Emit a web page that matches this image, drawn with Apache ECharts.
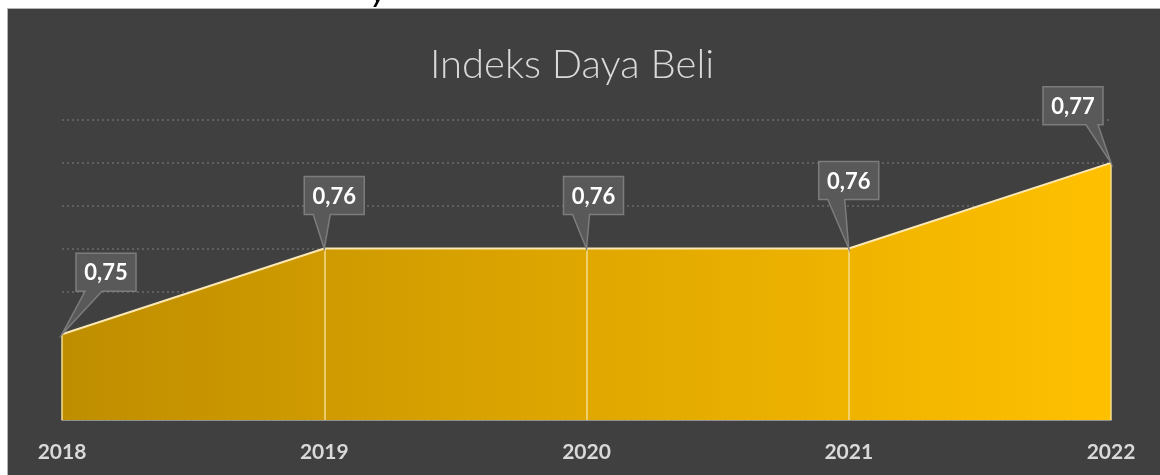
<!DOCTYPE html>
<html lang="id">
<head>
    <meta charset="UTF-8">
    <title>Indeks Daya Beli</title>
    <style>
        html, body { margin: 0; padding: 0; background: #ffffff; }
        #render-target { width: 1160px; height: 475px; }
    </style>
    <script src="https://cdn.jsdelivr.net/npm/echarts@6/dist/echarts.min.js"></script>
</head>
<body>
    <div id="render-target"></div>

    <script>
        const years = ["2018", "2019", "2020", "2021", "2022"]
        const indexValues = [0.75, 0.76, 0.76, 0.76, 0.77]

        // callout box centre relative to its point (px)
        const calloutOffsets = [[44, -62], [10, -53], [7, -53], [0, -68], [-38, -57]]

        const yMin = 0.74
        const yMax = 0.775
        const yStep = 0.005

        const fmt = v => v.toFixed(2).replace(".", ",")

        const targetEl = document.querySelector("#render-target")
        const chart = echarts.init(targetEl, null, { renderer: "canvas" })

        function renderCallout(params, api) {
            const idx = api.value(0)
            const p = api.coord([idx, api.value(1)])
            const off = calloutOffsets[params.dataIndex]
            const w = 60, h = 38
            const cx = p[0] + off[0], cy = p[1] + off[1]
            const l = cx - w / 2, r = cx + w / 2, t = cy - h / 2, b = cy + h / 2
            // wedge leaves the bottom edge on the side facing the point
            const base = p[0] > cx + 5 ? [l + 43, l + 55] : [l + 9, l + 26]
            return {
                type: "group",
                children: [{
                    type: "polygon",
                    shape: { points: [[l, t], [r, t], [r, b], [base[1], b], p, [base[0], b], [l, b]] },
                    style: { fill: "#595959", stroke: "#7c7c7c", lineWidth: 1.5 }
                }, {
                    type: "text",
                    x: cx, y: cy + 1,
                    style: {
                        text: fmt(api.value(1)),
                        fill: "#ffffff",
                        font: "bold 22px Lato",
                        align: "center",
                        verticalAlign: "middle"
                    }
                }]
            }
        }

        const option = {
            animation: false,
            backgroundColor: "#ffffff",
            graphic: [{
                type: "rect",
                z: -10,
                shape: { x: 7.5, y: 8.5, width: 1160, height: 475 },
                style: { fill: "#404040", stroke: "#b4b4b4", lineWidth: 1 }
            }, {
                type: "text",
                z: 10,
                x: 372, y: 8,
                style: { text: "y", fill: "#000000", font: "bold italic 26px Lato", verticalAlign: "bottom" }
            }],
            title: {
                text: "Indeks Daya Beli",
                left: 567,
                top: 40,
                textAlign: "center",
                textStyle: {
                    color: "#d9d9d9",
                    fontFamily: "Lato",
                    fontWeight: 300,
                    fontSize: 40
                }
            },
            grid: { left: 62, right: 49, top: 120, bottom: 55 },
            xAxis: {
                type: "category",
                data: years,
                boundaryGap: false,
                axisLine: { lineStyle: { color: "#a6a6a6", width: 1.5 } },
                axisTick: { show: false },
                axisLabel: {
                    color: "#d9d9d9",
                    fontFamily: "Lato",
                    fontWeight: "bold",
                    fontSize: 21,
                    margin: 22
                }
            },
            yAxis: {
                type: "value",
                min: yMin,
                max: yMax,
                interval: yStep,
                axisLabel: { show: false },
                axisLine: { show: false },
                axisTick: { show: false },
                splitLine: { lineStyle: { color: "#6b6b6b", width: 1.5, type: [2, 3] } }
            },
            series: [{
                type: "line",
                data: indexValues,
                symbol: "none",
                z: 2,
                lineStyle: { color: "#fbe8b4", width: 2 },
                areaStyle: {
                    opacity: 1,
                    color: new echarts.graphic.LinearGradient(0, 0, 1, 0, [
                        { offset: 0, color: "#bf8e00" },
                        { offset: 1, color: "#ffc000" }
                    ])
                },
                markLine: {
                    silent: true,
                    symbol: "none",
                    label: { show: false },
                    lineStyle: { color: "#f6dc8c", width: 1.5, type: "solid" },
                    data: years.map((y, i) => [
                        { coord: [y, indexValues[i]] },
                        { coord: [y, yMin] }
                    ])
                }
            }, {
                type: "custom",
                z: 5,
                clip: false,
                renderItem: renderCallout,
                data: indexValues.map((v, i) => [i, v])
            }]
        }

        chart.setOption(option)
    </script>
</body>
</html>
